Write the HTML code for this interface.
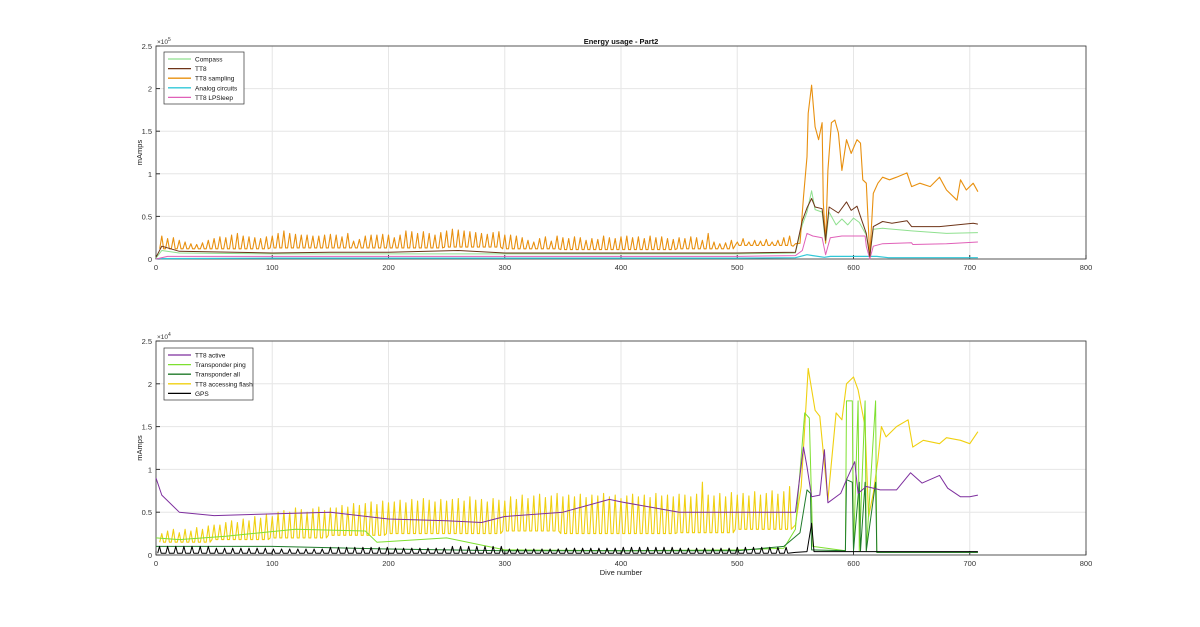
<!DOCTYPE html>
<html><head><meta charset="utf-8"><style>
body{margin:0;background:#fff;font-family:"Liberation Sans",sans-serif}
svg text{font-family:"Liberation Sans",sans-serif}
</style></head><body>
<svg id="c" width="1200" height="622" xmlns="http://www.w3.org/2000/svg"></svg>
<script>
// ---------- data ----------
const xTicks=[0,100,200,300,400,500,600,700,800];
const topYTicks=[0,0.5,1,1.5,2,2.5];
const botYTicks=[0,0.5,1,1.5,2,2.5];
// spike trains (period 5 dives, starting dive 5)
const sampPeaks=[27,24,25,22,20,18,17,19,22,24,26,25,28,30,27,26,25,24,26,27,30,33,30,29,28,28,27,27,28,29,28,26,30,21,23,27,28,28,29,28,25,28,33,32,30,32,30,28,31,33,35,34,33,32,31,30,29,31,32,28,28,27,25,22,20,24,26,21,27,25,24,26,25,22,24,23,27,25,24,26,27,25,26,24,27,25,26,24,23,25,24,26,25,22,30,20,18,19,22,20,24,20,22,21,23,20,22,25,27];
const sampBase=[12,12,13,13,13,14,12,11,11,12,16];
const flashPeaks=[2.5,2.8,3,2.6,3,2.8,3.2,3,3.4,3.5,3.5,3.8,4,3.8,4.2,4,4.5,4.3,4.8,4.5,5,5.2,5,5.5,5.3,5,5.4,5.6,5.2,5.5,5.5,5.8,5.6,6,5.8,6,6.2,5.9,6.3,6.1,6.2,6.4,6.1,6.5,6.3,6.6,6.4,6.2,6.5,6.3,6.5,6.6,6.3,6.8,6.4,6.5,6.2,6.6,6.4,6.3,6.8,6.5,7,6.6,6.9,7.1,6.7,6.9,7.2,6.8,7,6.8,7.1,6.7,7,6.9,7.2,6.8,7,6.6,6.9,7.1,6.8,7,6.7,7.2,6.9,7,6.8,7.1,7,6.8,7.1,8.5,7,6.9,7.2,6.8,7.3,7,7.2,6.9,7.4,7,7.2,7.5,7.1,7.4,8];
const flashBase=[1.5,1.8,2,2.3,2.5,2.5,2.8,2.5,2.5,2.6,3.0];
const gpsPeaks=[1.0,0.8,0.7,0.9,0.8,1.0,0.7,0.8,0.9,0.8,0.9];
// tails after dive ~550 (values in thousands)
const sampTailX=[550,554,557,560,561,564,567,570,573,574,576,578,581,584,587,590,594,598,603,606,608,611,614,617,621,625,631,637,646,650,657,666,674,680,689,692,697,703,707];
const sampTailY=[18,18.4,73,120,171,204,155,140,160,66,19,104,160,163,148,104,140,124,140,136,93,89,3,77,89,96,93,96,101,85,89,85,96,81,69,93,81,89,79];
const tt8X=[0,5,20,100,150,200,260,300,400,500,550,556,560,564,567,573,576,579,587,594,598,603,607,611,614,617,625,633,646,650,674,689,703,707];
const tt8Y=[2,15,9,7,8,8,10,7,7,7,8,45,60,71,61,59,22,61,54,67,57,62,46,30,3,38,44,42,45,38,38,40,42,41];
const compX=[0,5,20,100,200,300,400,500,550,556,560,564,567,573,576,579,585,590,595,600,605,611,614,617,625,650,680,707];
const compY=[1,10,7,6,6,6,6,6,7,40,55,80,58,55,18,55,40,47,40,48,43,28,3,35,36,33,30,31];
const lpsX=[0,10,100,200,300,400,500,550,556,560,565,573,576,580,590,610,611,614,617,625,650,651,680,707];
const lpsY=[0,3,3,3,3,3,3,4,10,30,27,25,5,25,27,27,15,0,15,18,19,17,18,20];
const anaX=[0,100,300,500,550,560,565,575,580,620,630,707];
const anaY=[0.5,1,1,1,1.5,5,4,2,3,3,1.5,1.5];
const actX=[0,5,20,50,100,150,200,250,280,300,350,390,400,450,500,550,557,560,564,571,575,578,589,594,601,604,611,623,637,649,659,674,681,692,700,707];
const actY=[9,7,5,4.6,4.8,5,4.2,4,3.8,4.5,5,6.5,6.2,5,5,5,12.6,10.3,6.8,7,12.3,6.1,7.2,8.8,10.9,7.2,8,7.6,7.6,9.6,8.4,9.3,7.8,6.8,6.8,7];
const pingX=[0,20,60,120,180,190,250,300,400,500,540,550,558,562,565,593,594,599,600,604,605,610,611,619,620,707];
const pingY=[2,1.8,2.2,3,2.8,1.5,2,0.6,0.5,0.6,0.8,3,16.6,16,1,0.5,18,18,0.5,18,0.5,18,0.5,18,0.3,0.3];
const allX=[0,100,200,300,400,500,540,554,560,563,564,593,594,599,600,605,606,610,611,619,620,707];
const allY=[1,1,0.7,0.5,0.5,0.5,1,2.6,7.6,7.2,0.6,0.5,8.8,8.5,0.5,8.5,0.5,8.5,0.5,8.5,0.3,0.3];
const flashTailX=[550,555,561,567,571,578,585,590,594,600,604,610,613,617,621,624,628,637,647,651,660,674,680,692,700,707];
const flashTailY=[3.5,8,21.8,16.9,16.2,6.4,16.6,15.8,20,20.8,19.3,15,4.5,7.2,11.1,15,13.8,15,15.8,12.6,13.4,13,13.7,13.4,13,14.4];
const gpsTailX=[550,560,564,566,600,650,707];
const gpsTailY=[0.3,0.4,3.7,0.4,0.4,0.4,0.4];

// ---------- drawing ----------
const NS="http://www.w3.org/2000/svg";const svg=document.getElementById('c');
function el(t,a,p){const e=document.createElementNS(NS,t);for(const k in a)e.setAttribute(k,a[k]);(p||svg).appendChild(e);return e;}
const L=156,R=1086;
function xs(d){return L+d/800*(R-L);}
function mkAxes(top,bot,ymax,yTicks,expTxt,name){
  const sy=v=>bot-v/ymax*(bot-top);
  const g=el('g',{});
  
  
  el('rect',{x:L,y:top,width:R-L,height:bot-top,fill:'#fff'},g);
  xTicks.forEach(t=>{const x=xs(t);
    const gl=el('line',{x1:x,x2:x,y1:top,y2:bot,stroke:'#e6e6e6','stroke-width':1},g);
    
    el('line',{x1:x,x2:x,y1:bot,y2:bot-4,stroke:'#333'},g);
    const tx=el('text',{x:x,y:bot+11,'font-size':7.5,'text-anchor':'middle',fill:'#333'},g);tx.textContent=t;
    });
  yTicks.forEach(t=>{const y=sy(t/yTicks[yTicks.length-1]*ymax);
    const gl=el('line',{x1:L,x2:R,y1:y,y2:y,stroke:'#e6e6e6'},g);
    
    el('line',{x1:L,x2:L+4,y1:y,y2:y,stroke:'#333'},g);
    const tx=el('text',{x:L-4,y:y+3,'font-size':7.5,'text-anchor':'end',fill:'#333'},g);tx.textContent=t;
    });
  el('rect',{x:L,y:top,width:R-L,height:bot-top,fill:'none',stroke:'#333','stroke-width':0.8},g);
  const ex=el('text',{x:L+1,y:top-2,'font-size':6.5,fill:'#333'},g);ex.innerHTML='×10<tspan dy="-3" font-size="5">'+expTxt+'</tspan>';
  
  const yl=el('text',{x:0,y:0,'font-size':7.5,'text-anchor':'middle',fill:'#222',transform:`translate(142,${(top+bot)/2}) rotate(-90)`},g);yl.textContent='mAmps';
  
  return sy;
}
function line(pts,sy,color,w,name){
  const d=pts.map((p,i)=>(i?'L':'M')+xs(p[0]).toFixed(1)+','+sy(p[1]*1000).toFixed(1)).join('');
  const p=el('path',{d:d,fill:'none',stroke:color,'stroke-width':w,'stroke-linejoin':'round'});
  
}
function zip(a,b){return a.map((v,i)=>[v,b[i]]);}
function spikes(peaks,base,start,per){const out=[];peaks.forEach((v,i)=>{const d=start+i*per;const b=base[Math.min(base.length-1,Math.floor(d/50))];out.push([d-1.8,b],[d,v],[d+1.5,b]);});return out;}
function legend(x,y,w,items,name){
  const g=el('g',{});
  el('rect',{x:x,y:y,width:w,height:items.length*9.6+4,fill:'#fff',stroke:'#333','stroke-width':0.7},g);
  items.forEach((it,i)=>{const yy=y+7+i*9.6;
    el('line',{x1:x+4,x2:x+27,y1:yy,y2:yy,stroke:it[1],'stroke-width':1.3},g);
    const t=el('text',{x:x+31,y:yy+2.5,'font-size':6.5,fill:'#111'},g);t.textContent=it[0];
    });
}
const C={comp:'#8fe08f',tt8:'#6e3418',samp:'#e8900f',ana:'#30c8d8',lps:'#e060b8',act:'#7e2f9e',ping:'#7ee030',all:'#1f7a2a',flash:'#f0d010',gps:'#000'};
// top
const syT=mkAxes(46,259,250000,topYTicks,'5','top-axes');
const sampPts=spikes(sampPeaks,sampBase,5,5).concat([[548,15]]).concat(zip(sampTailX,sampTailY));
line(zip(anaX,anaY),syT,C.ana,1.2,'analog-circuits-line');
line(zip(lpsX,lpsY),syT,C.lps,1,'tt8-lpsleep-line');
line(zip(compX,compY),syT,C.comp,1,'compass-line');
line(sampPts,syT,C.samp,1.1,'tt8-sampling-line');
line(zip(tt8X,tt8Y),syT,C.tt8,1,'tt8-line');
const t=el('text',{x:621,y:44,'font-size':7.5,'font-weight':'bold','text-anchor':'middle',fill:'#111'});t.textContent='Energy usage - Part2';

legend(164,52,80,[['Compass',C.comp],['TT8',C.tt8],['TT8 sampling',C.samp],['Analog circuits',C.ana],['TT8 LPSleep',C.lps]],'top-legend');
// bottom
const syB=mkAxes(341,555,25000,botYTicks,'4','bottom-axes');
const flashPts=spikes(flashPeaks,flashBase,5,5).concat(zip(flashTailX,flashTailY));
const gpsPts=[];for(let d=3;d<548;d+=7){gpsPts.push([d-1.5,0.2],[d,gpsPeaks[Math.floor(d/50)]],[d+1.5,0.2]);}
line(flashPts,syB,C.flash,1.1,'tt8-accessing-flash-line');
line(zip(pingX,pingY),syB,C.ping,1,'transponder-ping-line');
line(zip(allX,allY),syB,C.all,1,'transponder-all-line');
line(zip(actX,actY),syB,C.act,1,'tt8-active-line');
line(gpsPts.concat(zip(gpsTailX,gpsTailY)),syB,C.gps,1,'gps-line');
legend(164,348,89,[['TT8 active',C.act],['Transponder ping',C.ping],['Transponder all',C.all],['TT8 accessing flash',C.flash],['GPS',C.gps]],'bottom-legend');
const xl=el('text',{x:621,y:575,'font-size':7.5,'text-anchor':'middle',fill:'#222'});xl.textContent='Dive number';

</script>
</body></html>
